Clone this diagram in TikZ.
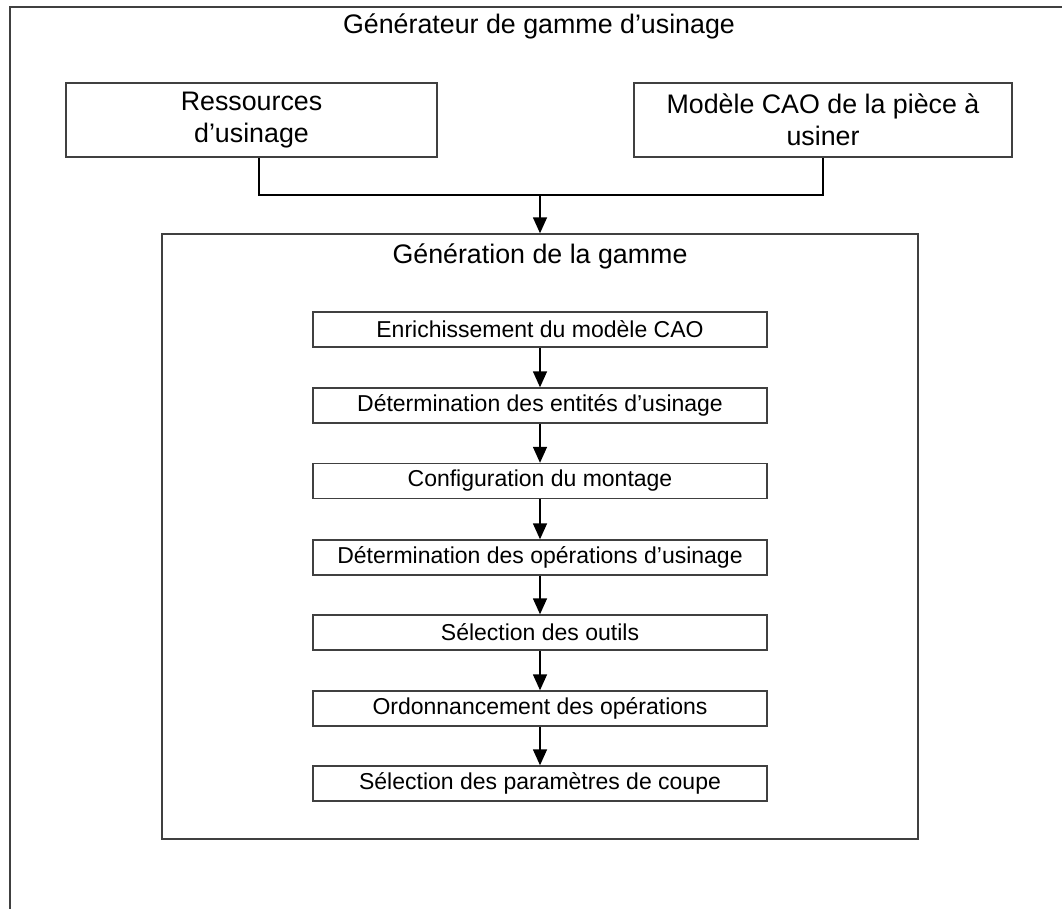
\documentclass[tikz,border=0pt]{standalone}
\usepackage{fontspec}
\setmainfont{Liberation Sans}
\usetikzlibrary{arrows.meta}
\begin{document}
\begin{tikzpicture}[x=1pt,y=-1pt,
  box/.style={draw=black!75, line width=1.4pt, fill=white, inner sep=0pt, align=center},
  stepbox/.style={box, minimum width=454pt, minimum height=35pt, font=\fontsize{23}{27}\selectfont},
  bigtxt/.style={font=\fontsize{26.8}{32}\selectfont},
  conn/.style={line width=1.5pt, draw=black},
  arr/.style={conn, -{Triangle[length=16pt,width=14pt]}}]
\useasboundingbox (0,0) rectangle (1062,909);
\draw[line width=1.5pt, draw=black!75] (10,909) -- (10,7) -- (1062,7);
\node[bigtxt] (title) at (539,26) {Générateur de gamme d'usinage};
\node[box, bigtxt, minimum width=371pt, minimum height=74pt] (res) at (251.5,120) {Ressources\\d'usinage};
\node[box, bigtxt, minimum width=378pt, minimum height=74pt] (cao) at (823,120) {Modèle CAO de la pièce à\\usiner};
\node[box, minimum width=756pt, minimum height=605pt] (gen) at (540,536.5) {};
\node[bigtxt] (gentitle) at (540,256) {Génération de la gamme};
\node[stepbox] (s1) at (540,329.5) {Enrichissement du modèle CAO};
\node[stepbox] (s2) at (540,405.5) {Détermination des entités d'usinage};
\node[stepbox] (s3) at (540,481) {Configuration du montage};
\node[stepbox] (s4) at (540,557.5) {Détermination des opérations d'usinage};
\node[stepbox] (s5) at (540,632.5) {Sélection des outils};
\node[stepbox] (s6) at (540,708.5) {Ordonnancement des opérations};
\node[stepbox] (s7) at (540,783.5) {Sélection des paramètres de coupe};
\coordinate (j) at (540,195);
\draw[conn] ([xshift=7.5pt]res.south) |- (j) -| (cao.south);
\draw[arr] (j) -- (gen.north);
\draw[arr] (s1) -- (s2);
\draw[arr] (s2) -- (s3);
\draw[arr] (s3) -- (s4);
\draw[arr] (s4) -- (s5);
\draw[arr] (s5) -- (s6);
\draw[arr] (s6) -- (s7);
\end{tikzpicture}
\end{document}
